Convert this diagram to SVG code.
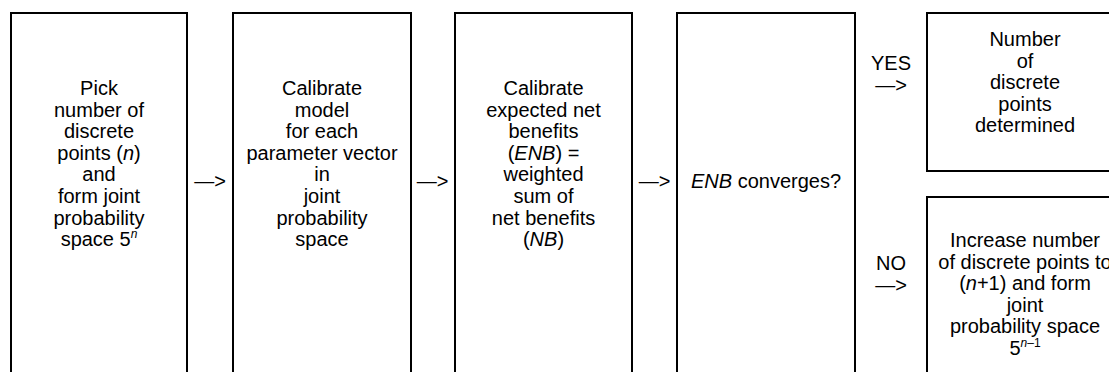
<svg xmlns="http://www.w3.org/2000/svg" width="1109" height="372" viewBox="0 0 1109 372">
<style>
.box{fill:#fff;stroke:#000;stroke-width:2}
text{font-family:"Liberation Sans",Arial,sans-serif;font-size:20px;fill:#000;text-anchor:middle}
.i{font-style:italic}
.sup{font-size:12px}
</style>
<rect x="0" y="0" width="1109" height="372" fill="#fff"/>
<g id="node-pick">
<rect class="box" x="11" y="13" width="176" height="420"/>
<text x="99" y="95">Pick</text>
<text x="99" y="116.6">number of</text>
<text x="99" y="138.2">discrete</text>
<text x="99" y="159.8">points (<tspan class="i">n</tspan>)</text>
<text x="99" y="181.4">and</text>
<text x="99" y="203">form joint</text>
<text x="99" y="224.6">probability</text>
<text x="99" y="246.2">space 5<tspan class="i sup" dy="-8">n</tspan></text>
</g>
<g id="node-calibrate-model">
<rect class="box" x="233" y="13" width="178" height="420"/>
<text x="322" y="95">Calibrate</text>
<text x="322" y="116.6">model</text>
<text x="322" y="138.2">for each</text>
<text x="322" y="159.8">parameter vector</text>
<text x="322" y="181.4">in</text>
<text x="322" y="203">joint</text>
<text x="322" y="224.6">probability</text>
<text x="322" y="246.2">space</text>
</g>
<g id="node-calibrate-enb">
<rect class="box" x="455" y="13" width="177" height="420"/>
<text x="543.5" y="95">Calibrate</text>
<text x="543.5" y="116.6">expected net</text>
<text x="543.5" y="138.2">benefits</text>
<text x="543.5" y="159.8">(<tspan class="i">ENB</tspan>) =</text>
<text x="543.5" y="181.4">weighted</text>
<text x="543.5" y="203">sum of</text>
<text x="543.5" y="224.6">net benefits</text>
<text x="543.5" y="246.2">(<tspan class="i">NB</tspan>)</text>
</g>
<g id="node-converges">
<rect class="box" x="677" y="13" width="178" height="420"/>
<text x="766" y="188"><tspan class="i">ENB</tspan> converges?</text>
</g>
<g id="node-determined">
<rect class="box" x="927" y="13" width="200" height="158"/>
<text x="1025" y="46">Number</text>
<text x="1025" y="67.6">of</text>
<text x="1025" y="89.2">discrete</text>
<text x="1025" y="110.8">points</text>
<text x="1025" y="132.4">determined</text>
</g>
<g id="node-increase">
<rect class="box" x="927" y="197" width="200" height="240"/>
<text x="1025" y="247">Increase number</text>
<text x="1025" y="268.6">of discrete points to</text>
<text x="1025" y="290.2">(<tspan class="i">n</tspan>+1) and form</text>
<text x="1025" y="311.8">joint</text>
<text x="1025" y="333.4">probability space</text>
<text x="1025" y="355">5<tspan class="i sup" dy="-8">n</tspan><tspan class="sup">–1</tspan></text>
</g>
<g id="connectors">
<text x="210" y="188">—&gt;</text>
<text x="432.5" y="188">—&gt;</text>
<text x="654.5" y="188">—&gt;</text>
<text x="891" y="70">YES</text>
<text x="891" y="92">—&gt;</text>
<text x="891" y="270">NO</text>
<text x="891" y="292">—&gt;</text>
</g>
</svg>
